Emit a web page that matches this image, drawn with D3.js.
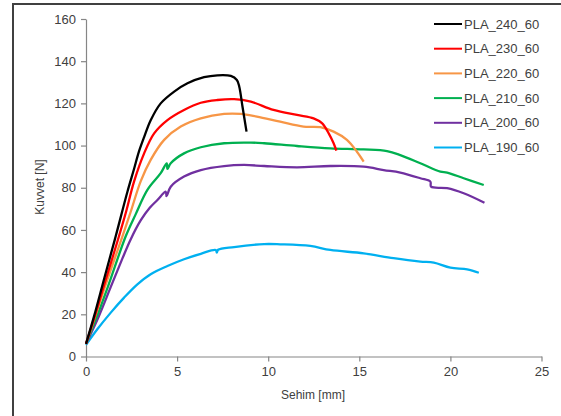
<!DOCTYPE html>
<html lang="tr">
<head>
<meta charset="UTF-8">
<title>Kuvvet - Sehim</title>
<script src="https://cdn.jsdelivr.net/npm/d3@7"></script>
<style>
    body { margin: 0; background: #fff; }
    text { font-family: "Liberation Sans", Arial, sans-serif; }
</style>
</head>
<body>
<svg width="561" height="416"></svg>
<script>
    // seri isimleri ve renkleri
    var names = ["PLA_240_60", "PLA_230_60", "PLA_220_60", "PLA_210_60", "PLA_200_60", "PLA_190_60"];
    var colors = ["#000000", "#ff0000", "#f79646", "#00b050", "#7030a0", "#00b0f0"];

    // [sehim mm, kuvvet N] okunan noktalar
    var pla240 = [[0,6],[0.44,19],[1.0,37],[1.63,57],[2.27,78],[2.64,89],[2.9,97],[3.19,104],[3.55,112],[4.1,120],[4.84,125.6],
        [5.57,129.5],[6.48,132.4],[7.21,133.3],[7.95,133],[8.28,131.1],[8.41,128],[8.59,118.4],[8.81,106.6]];
    var pla230 = [[0,6],[0.5,19.5],[1.0,34],[1.81,57],[2.18,68],[2.64,83],[3.19,96.3],[3.74,105.8],[4.47,112.1],[5.38,116.9],
        [6.3,120.3],[7.21,121.6],[8.13,122],[9.05,120.8],[10.29,116.9],[11.58,114.5],[12.49,112.9],[12.95,110.6],
        [13.32,105.8],[13.59,101.1],[13.74,97.6]];
    var pla220 = [[0,6],[0.5,19],[1.0,32],[2.0,57],[2.45,68.5],[3.0,83],[3.55,93.2],[4.29,102.7],[5.2,109],[6.3,112.9],
        [7.58,115],[8.5,115],[9.38,113.7],[10.66,111.3],[11.94,109],[12.86,108.7],[13.59,106.6],[14.32,102.7],[14.87,97.1],[15.24,92.4]];
    var pla210 = [[0,6],[0.6,19],[1.2,33],[2.18,57],[2.73,67.5],[3.37,79],[4.1,86.9],[4.43,91.6],[4.47,89],[4.65,91.6],
        [5.38,96.3],[6.3,99.2],[7.58,101.1],[9.05,101.4],[9.78,101.1],[11.58,99.8],[13.41,98.7],[15.24,98.2],[16.52,97.4],
        [17.25,95.5],[18.35,91.6],[19.45,87.6],[19.82,87.2],[20.73,84.5],[21.83,81.3]];
    var pla200 = [[0,6],[0.7,19],[1.36,33],[2.0,46.5],[2.45,55.5],[3.0,64.5],[3.5,70.5],[3.92,74.2],[4.38,78.1],[4.42,76],
        [4.65,80.5],[5.38,85.3],[6.3,88.4],[7.58,90.3],[8.68,90.8],[9.78,90.3],[11.58,89.7],[13.41,90.3],[15.24,90],
        [16.34,88.4],[17.25,87.2],[18.35,84.5],[18.9,82.9],[18.94,80.5],[19.82,79.8],[20.73,77.4],[21.87,72.9]];
    var pla190 = [[0,5.5],[0.62,12.9],[1.36,20.8],[2.09,27.9],[2.82,34.2],[3.55,39],[4.47,42.9],[5.38,46.1],[6.3,48.7],
        [7.12,50.5],[7.18,49.2],[7.25,50.6],[8.13,51.9],[9.78,53.3],[10.66,53.2],[12.31,52.4],[13.41,50.5],[15.24,48.9],
        [16.88,46.6],[18.35,45],[19.09,44.5],[20,42.1],[20.92,41.3],[21.56,39.7]];

    var seriesData = [pla240, pla230, pla220, pla210, pla200, pla190];

    var xTicks = [0, 5, 10, 15, 20, 25];
    var yTicks = [0, 20, 40, 60, 80, 100, 120, 140, 160];

    var svg = d3.select("svg");

    // dış çerçeve (sağ ve alt kenarlar resmin dışında)
    svg.append("rect").attr("x", 13).attr("y", 4).attr("width", 600).attr("height", 500)
        .attr("fill", "none").attr("stroke", "#404040").attr("stroke-width", 2);

    var xScale = d3.scaleLinear().domain([0, 25]).range([86, 541.5]);
    var yScale = d3.scaleLinear().domain([0, 160]).range([356.5, 19]);

    var xAxis = d3.axisBottom(xScale).tickValues(xTicks).tickSizeInner(5).tickSizeOuter(0).tickPadding(5);
    var yAxis = d3.axisLeft(yScale).tickValues(yTicks).tickSizeInner(5).tickSizeOuter(0).tickPadding(5);

    var gx = svg.append("g").attr("transform", "translate(0," + yScale(0) + ")").call(xAxis);
    var gy = svg.append("g").attr("transform", "translate(" + xScale(0) + ",0)").call(yAxis);

    [gx, gy].forEach(function (g) {
        g.select(".domain").attr("stroke", "#868686").attr("stroke-width", 1.2);
        g.selectAll(".tick line").attr("stroke", "#868686").attr("stroke-width", 1.2);
        g.selectAll(".tick text").attr("fill", "#404040").style("font-size", "13px")
            .style("font-family", '"Liberation Sans", Arial, sans-serif');
    });

    // eğriler
    var line = d3.line()
        .x(function (d) { return xScale(d[0]); })
        .y(function (d) { return yScale(d[1]); })
        .curve(d3.curveCatmullRom.alpha(0.5));

    // önce alttaki seriler çizilsin
    for (var i = seriesData.length - 1; i >= 0; i--) {
        svg.append("path").attr("d", line(seriesData[i])).attr("fill", "none")
            .attr("stroke", colors[i]).attr("stroke-width", 2.3).attr("stroke-linejoin", "round");
    }

    // eksen başlıkları
    svg.append("text").attr("x", 313).attr("y", 399).attr("text-anchor", "middle")
        .attr("fill", "#404040").style("font-size", "12px").text("Sehim [mm]");
    svg.append("text").attr("transform", "translate(44,187) rotate(-90)").attr("text-anchor", "middle")
        .attr("fill", "#404040").style("font-size", "12px").text("Kuvvet [N]");

    // lejant
    var legend = svg.append("g");
    names.forEach(function (n, i) {
        var y = 24 + i * 24.7;
        legend.append("line").attr("x1", 434).attr("x2", 462).attr("y1", y).attr("y2", y)
            .attr("stroke", colors[i]).attr("stroke-width", 2);
        legend.append("text").attr("x", 464).attr("y", y + 4.5).attr("fill", "#404040")
            .style("font-size", "13px").text(n);
    });
</script>
</body>
</html>
